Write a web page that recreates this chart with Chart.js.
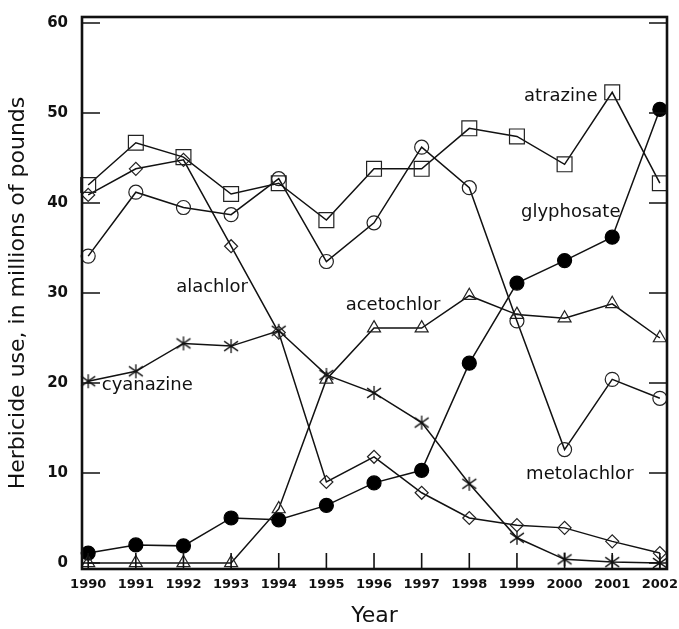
<!DOCTYPE html>
<html>
<head>
<meta charset="utf-8">
<script src="https://cdn.jsdelivr.net/npm/chart.js@4.4.1/dist/chart.umd.min.js"></script>
<style>
  html, body { margin: 0; padding: 0; background: #fff; }
  #wrap { width: 679px; height: 629px; position: relative; }
</style>
</head>
<body>
<div id="wrap"><canvas id="c"></canvas></div>
<script>
// ---- data ----
const years = [1990, 1991, 1992, 1993, 1994, 1995, 1996, 1997, 1998, 1999, 2000, 2001, 2002];
const atrazine    = [42.0, 46.7, 45.1, 41.0, 42.2, 38.1, 43.8, 43.8, 48.3, 47.4, 44.3, 52.3, 42.2];
const metolachlor = [34.1, 41.2, 39.5, 38.7, 42.7, 33.5, 37.8, 46.2, 41.7, 26.9, 12.6, 20.4, 18.3];
const alachlor    = [40.9, 43.8, 44.8, 35.2, 25.6, 9.0, 11.8, 7.8, 5.0, 4.2, 3.9, 2.4, 1.1];
const acetochlor  = [0, 0, 0, 0, 6.0, 20.4, 26.1, 26.1, 29.7, 27.6, 27.2, 28.8, 25.0];
const cyanazine   = [20.2, 21.3, 24.4, 24.1, 25.8, 20.9, 18.9, 15.6, 8.8, 2.8, 0.4, 0.1, 0.0];
const glyphosate  = [1.1, 2.0, 1.9, 5.0, 4.8, 6.4, 8.9, 10.3, 22.2, 31.1, 33.6, 36.2, 50.4];
const yTicks = [0, 10, 20, 30, 40, 50, 60];
const xTicks = years;
const seriesNames = ['atrazine', 'glyphosate', 'alachlor', 'acetochlor', 'cyanazine', 'metolachlor'];
// label anchors in data units (year, value)
const labelYears  = [1999.92, 2000.13, 1992.6, 1996.4, 1991.24, 2000.32];
const labelValues = [51.9, 39.0, 30.6, 28.6, 19.7, 9.8];

const pts = (arr) => years.map((y, i) => ({ x: y, y: arr[i] }));

// asterisk marker
function makeAsterisk() {
  const c = document.createElement('canvas');
  c.width = 18; c.height = 18;
  const g = c.getContext('2d');
  g.strokeStyle = '#111'; g.lineWidth = 1.3;
  const cx = 9, cy = 9;
  g.beginPath();
  g.moveTo(cx, cy - 7); g.lineTo(cx, cy + 7);
  const a = 35 * Math.PI / 180, r = 8.5;
  g.moveTo(cx - r * Math.cos(a), cy - r * Math.sin(a)); g.lineTo(cx + r * Math.cos(a), cy + r * Math.sin(a));
  g.moveTo(cx - r * Math.cos(a), cy + r * Math.sin(a)); g.lineTo(cx + r * Math.cos(a), cy - r * Math.sin(a));
  g.stroke();
  return c;
}
const asterisk = makeAsterisk();

const FONT = 'DejaVu Sans';
Chart.defaults.font.family = FONT;
Chart.defaults.color = '#111';

const base = {
  borderColor: '#111', borderWidth: 1.5, tension: 0,
  pointBorderColor: '#222', pointBorderWidth: 1.2,
  pointBackgroundColor: 'rgba(0,0,0,0)',
  clip: { left: 12, top: 12, right: 0, bottom: 12 }
};

const frame = {
  id: 'frame',
  afterDatasetsDraw(chart) {
    const { ctx, chartArea: a, scales } = chart;
    const xs = scales.x, ys = scales.y;
    ctx.save();
    ctx.strokeStyle = '#111';
    ctx.lineWidth = 1.6;
    ctx.beginPath();
    yTicks.forEach(v => {
      const py = ys.getPixelForValue(v);
      ctx.moveTo(a.left, py); ctx.lineTo(a.left + 18, py);
      ctx.moveTo(a.right, py); ctx.lineTo(a.right - 18, py);
    });
    xTicks.forEach(v => {
      const px = xs.getPixelForValue(v);
      ctx.moveTo(px, a.bottom); ctx.lineTo(px, a.bottom - 16);
    });
    ctx.stroke();
    ctx.lineWidth = 2.6;
    ctx.strokeRect(a.left, a.top, a.right - a.left, a.bottom - a.top);
    // series labels
    ctx.fillStyle = '#111';
    ctx.font = '18px "' + FONT + '"';
    ctx.textAlign = 'center';
    ctx.textBaseline = 'middle';
    seriesNames.forEach((n, i) => {
      ctx.fillText(n, xs.getPixelForValue(labelYears[i]), ys.getPixelForValue(labelValues[i]));
    });
    ctx.restore();
  }
};

new Chart(document.getElementById('c'), {
  type: 'line',
  data: {
    datasets: [
      Object.assign({}, base, { label: 'atrazine', data: pts(atrazine), pointStyle: 'rect', pointRadius: 10.5, pointHoverRadius: 10.5 }),
      Object.assign({}, base, { label: 'metolachlor', data: pts(metolachlor), pointStyle: 'circle', pointRadius: 7, pointHoverRadius: 7 }),
      Object.assign({}, base, { label: 'alachlor', data: pts(alachlor), pointStyle: 'rectRot', pointRadius: 6.5, pointHoverRadius: 6.5 }),
      Object.assign({}, base, { label: 'acetochlor', data: pts(acetochlor), pointStyle: 'triangle', pointRadius: 7.5, pointHoverRadius: 7.5 }),
      Object.assign({}, base, { label: 'cyanazine', data: pts(cyanazine), pointStyle: asterisk }),
      Object.assign({}, base, { label: 'glyphosate', data: pts(glyphosate), pointStyle: 'circle', pointRadius: 7, pointHoverRadius: 7, pointBackgroundColor: '#000', pointBorderColor: '#000' })
    ]
  },
  options: {
    responsive: true,
    maintainAspectRatio: false,
    devicePixelRatio: 1,
    animation: false,
    events: [],
    layout: { padding: { left: 0, right: 12, top: 17, bottom: 0 } },
    plugins: { legend: { display: false }, tooltip: { enabled: false } },
    scales: {
      x: {
        type: 'linear',
        min: 1989.87, max: 2002.15,
        afterBuildTicks: (s) => { s.ticks = xTicks.map(v => ({ value: v })); },
        afterFit: (s) => { s.height = 60; s.paddingLeft = 0; s.paddingRight = 0; },
        grid: { display: false, drawTicks: false },
        border: { display: false },
        ticks: { font: { size: 13, weight: 'bold' }, color: '#111', padding: 8, maxRotation: 0, autoSkip: false,
                 callback: (v) => String(v) },
        title: { display: true, text: 'Year', font: { size: 22 }, color: '#111', padding: { top: 2, bottom: 0 } }
      },
      y: {
        type: 'linear',
        min: -0.67, max: 60.67,
        afterBuildTicks: (s) => { s.ticks = yTicks.map(v => ({ value: v })); },
        afterFit: (s) => { s.width = 82; s.paddingTop = 0; s.paddingBottom = 0; },
        grid: { display: false, drawTicks: false },
        border: { display: false },
        ticks: { font: { size: 15, weight: 'bold' }, color: '#111', padding: 14, callback: (v) => String(v) },
        title: { display: true, text: 'Herbicide use, in millions of pounds', font: { size: 22 }, color: '#111', padding: { top: 5, bottom: 2 } }
      }
    }
  },
  plugins: [frame]
});
</script>
</body>
</html>
